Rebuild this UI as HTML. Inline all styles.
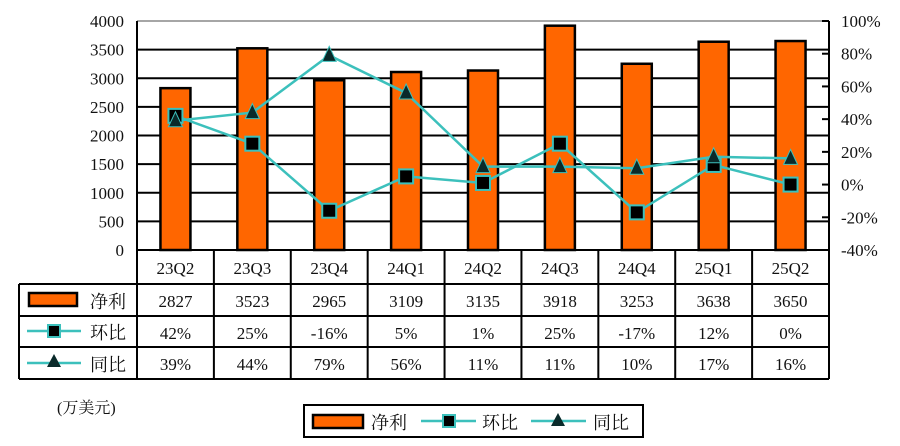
<!DOCTYPE html>
<html><head><meta charset="utf-8"><style>
body{margin:0;background:#fff;}
svg{display:block;font-family:"Liberation Serif","Noto Serif CJK SC",serif;}
</style></head><body>
<svg id="c" width="900" height="446" viewBox="0 0 900 446"></svg>
<script>
const categories=["23Q2","23Q3","23Q4","24Q1","24Q2","24Q3","24Q4","25Q1","25Q2"];
const profit=[2827,3523,2965,3109,3135,3918,3253,3638,3650];
const qoq=[42,25,-16,5,1,25,-17,12,0];
const yoy=[39,44,79,56,11,11,10,17,16];
const leftTicks=[0,500,1000,1500,2000,2500,3000,3500,4000];
const rightTicks=[-40,-20,0,20,40,60,80,100];
const NS="http://www.w3.org/2000/svg";
const svg=document.getElementById('c');
const L=137,R=829,T=21,B=250,n=categories.length,cw=(R-L)/n;
const yL=v=>B-v/4000*(B-T);
const yR=v=>B-(v+40)/140*(B-T);
const xC=i=>L+cw*(i+0.5);
function mk(tag,attrs,parent){const e=document.createElementNS(NS,tag);for(const k in attrs)e.setAttribute(k,attrs[k]);(parent||svg).appendChild(e);return e;}
function txt(x,y,s,anchor,size,name){const t=mk('text',{x:x,y:y,'text-anchor':anchor,'font-size':size,fill:'#111'});t.textContent=s;


return t;}
// gridlines
leftTicks.forEach(v=>{if(v>0&&v<4000){const g=mk('line',{x1:L,x2:R,y1:yL(v),y2:yL(v),stroke:'#000','stroke-width':2});

}
const t=txt(124,yL(v)+6,String(v),'end',17,'left-tick-label');});
mk('line',{x1:L,x2:R,y1:T,y2:T,stroke:'#888','stroke-width':1.5});
rightTicks.forEach(v=>{const tk=mk('line',{x1:R-7,x2:R,y1:yR(v),y2:yR(v),stroke:'#000','stroke-width':2});


txt(841,yR(v)+6,v+'%','start',17,'right-tick-label');});
mk('line',{x1:L,x2:L,y1:T,y2:B,stroke:'#000','stroke-width':2});
mk('line',{x1:R,x2:R,y1:T,y2:B,stroke:'#000','stroke-width':2});
// bars
profit.forEach((v,i)=>{const b=mk('rect',{x:xC(i)-15,y:yL(v),width:30,height:B-yL(v),fill:'#ff6600',stroke:'#000','stroke-width':2.5});

});
// lines
function line(arr,name){const p=mk('polyline',{points:arr.map((v,i)=>xC(i)+','+yR(v)).join(' '),fill:'none',stroke:'#3cc0bc','stroke-width':2.5});

}
line(qoq,'qoq-line');line(yoy,'yoy-line');
qoq.forEach((v,i)=>{const m=mk('rect',{x:xC(i)-7,y:yR(v)-7,width:14,height:14,fill:'#000',stroke:'#3cc0bc','stroke-width':2});

});
yoy.forEach((v,i)=>{const x=xC(i),y=yR(v);const m=mk('polygon',{points:`${x},${y-9} ${x-7},${y+6} ${x+7},${y+6}`,fill:'#0a2a2a',stroke:'#3cc0bc','stroke-width':1});

});
// table
const rows=[250,284,316,347,379];
mk('line',{x1:L,x2:R,y1:250,y2:250,stroke:'#000','stroke-width':2});
for(let r=1;r<rows.length;r++)mk('line',{x1:19,x2:R,y1:rows[r],y2:rows[r],stroke:'#000','stroke-width':2});
mk('line',{x1:19,x2:19,y1:284,y2:379,stroke:'#000','stroke-width':2});
for(let i=0;i<=n;i++)mk('line',{x1:L+cw*i,x2:L+cw*i,y1:250,y2:379,stroke:'#000','stroke-width':2});
categories.forEach((c,i)=>{txt(xC(i),274,c,'middle',17,'category-label');
txt(xC(i),307,String(profit[i]),'middle',17,'profit-value');
txt(xC(i),339,qoq[i]+'%','middle',17,'qoq-value');
txt(xC(i),370,yoy[i]+'%','middle',17,'yoy-value');});
// table legend keys
mk('rect',{x:29,y:293,width:48,height:13,fill:'#ff6600',stroke:'#000','stroke-width':2.5});
txt(90,308,'净利','start',18,'row-label-profit');
mk('line',{x1:27,x2:81,y1:331,y2:331,stroke:'#3cc0bc','stroke-width':2.5});
mk('rect',{x:48,y:325,width:12,height:12,fill:'#000',stroke:'#3cc0bc','stroke-width':2});
txt(90,339,'环比','start',18,'row-label-qoq');
mk('line',{x1:27,x2:81,y1:363,y2:363,stroke:'#3cc0bc','stroke-width':2.5});
mk('polygon',{points:'54,354 47,367 61,367',fill:'#0a2a2a'});
txt(90,371,'同比','start',18,'row-label-yoy');
txt(57,413,'(万美元)','start',16,'unit-label');
// legend
const lg=mk('rect',{x:304,y:405,width:339,height:32,fill:'#fff',stroke:'#000','stroke-width':2});


mk('rect',{x:313,y:415,width:50,height:13,fill:'#ff6600',stroke:'#000','stroke-width':2.5});
txt(371,429,'净利','start',18,'legend-entry-profit');
mk('line',{x1:421,x2:476,y1:421,y2:421,stroke:'#3cc0bc','stroke-width':2.5});
mk('rect',{x:443,y:415,width:12,height:12,fill:'#000',stroke:'#3cc0bc','stroke-width':2});
txt(482,429,'环比','start',18,'legend-entry-qoq');
mk('line',{x1:531,x2:586,y1:421,y2:421,stroke:'#3cc0bc','stroke-width':2.5});
mk('polygon',{points:'558,413 551,426 565,426',fill:'#0a2a2a'});
txt(593,429,'同比','start',18,'legend-entry-yoy');
</script>
</body></html>
